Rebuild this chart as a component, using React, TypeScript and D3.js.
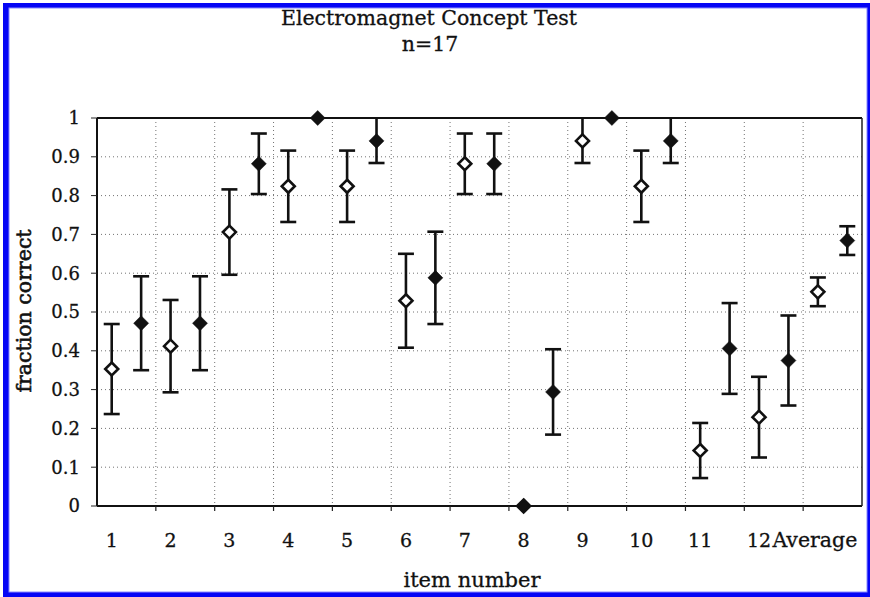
import React, { useEffect, useRef } from 'react';
import * as d3 from 'd3';

// item labels along the bottom
const categories = ['1', '2', '3', '4', '5', '6', '7', '8', '9', '10', '11', '12', 'Average'];

// open diamonds (left point in each item)
const openValues = [0.353, 0.412, 0.706, 0.824, 0.824, 0.529, 0.882, 0.0, 0.941, 0.824, 0.143, 0.229, 0.552];
const openErrors = [0.116, 0.119, 0.11, 0.092, 0.092, 0.121, 0.078, 0.0, 0.057, 0.092, 0.071, 0.104, 0.037];

// filled diamonds (right point in each item)
const filledValues = [0.471, 0.471, 0.882, 1.0, 0.941, 0.588, 0.882, 0.294, 1.0, 0.941, 0.406, 0.375, 0.684];
const filledErrors = [0.121, 0.121, 0.078, 0.0, 0.057, 0.119, 0.078, 0.11, 0.0, 0.057, 0.117, 0.116, 0.037];

const yTicks = [0, 0.1, 0.2, 0.3, 0.4, 0.5, 0.6, 0.7, 0.8, 0.9, 1];

const FONT = '"DejaVu Serif", serif';

const App: React.FC = () => {
  const svgRef = useRef<SVGSVGElement>(null);

  useEffect(() => {
    if (!svgRef.current) return;
    const width = 870;
    const height = 597;
    const margin = { top: 118, right: 7, bottom: 91, left: 97 };

    const svg = d3.select(svgRef.current)
      .attr('width', width)
      .attr('height', height);
    svg.selectAll('*').remove();

    // blue frame of the scan
    svg.append('rect').attr('x', 3).attr('y', 3).attr('width', width - 3).attr('height', height - 3).attr('fill', '#0505f5');
    svg.append('rect').attr('x', 9).attr('y', 8).attr('width', 858).attr('height', 584).attr('fill', '#ffffff')
      .attr('stroke', '#8a8aff').attr('stroke-width', 1);

    const x = d3.scaleBand<string>()
      .domain(categories)
      .range([margin.left, width - margin.right - 1])
      .paddingInner(0)
      .paddingOuter(0);
    const bw = x.bandwidth();

    const y = d3.scaleLinear()
      .domain([0, 1])
      .range([height - margin.bottom, margin.top]);

    const x0 = margin.left;
    const x1 = width - margin.right - 1;

    // dotted grid
    const grid = svg.append('g')
      .attr('stroke', '#444')
      .attr('stroke-width', 1)
      .attr('stroke-dasharray', '1,3')
      .attr('opacity', 0.75);

    grid.selectAll('.hg')
      .data(yTicks.filter(t => t > 0 && t < 1))
      .enter()
      .append('line')
      .attr('x1', x0)
      .attr('x2', x1)
      .attr('y1', d => y(d))
      .attr('y2', d => y(d));

    grid.selectAll('.vg')
      .data(categories.slice(1))
      .enter()
      .append('line')
      .attr('x1', d => x(d)!)
      .attr('x2', d => x(d)!)
      .attr('y1', y(1))
      .attr('y2', y(0));

    // plot frame
    svg.append('line').attr('x1', x0).attr('x2', x0).attr('y1', y(1)).attr('y2', y(0))
      .attr('stroke', '#111').attr('stroke-width', 2);
    svg.append('line').attr('x1', x0).attr('x2', x1).attr('y1', y(0)).attr('y2', y(0))
      .attr('stroke', '#111').attr('stroke-width', 2.2);
    svg.append('line').attr('x1', x0).attr('x2', x1).attr('y1', y(1)).attr('y2', y(1))
      .attr('stroke', '#111').attr('stroke-width', 2);
    svg.append('line').attr('x1', x1).attr('x2', x1).attr('y1', y(1)).attr('y2', y(0))
      .attr('stroke', '#222').attr('stroke-width', 1.5);

    // y ticks + labels
    const yAxis = svg.append('g');
    yAxis.selectAll('line')
      .data(yTicks)
      .enter()
      .append('line')
      .attr('x1', x0 - 6)
      .attr('x2', x0)
      .attr('y1', d => y(d))
      .attr('y2', d => y(d))
      .attr('stroke', '#222')
      .attr('stroke-width', 1);
    yAxis.selectAll('text')
      .data(yTicks)
      .enter()
      .append('text')
      .attr('x', 80)
      .attr('y', d => y(d))
      .attr('dy', '0.36em')
      .attr('text-anchor', 'end')
      .attr('font-family', FONT)
      .attr('font-size', 18)
      .attr('fill', '#111')
      .attr('stroke', '#111').attr('stroke-width', 0.3)
      .text(d => d3.format('')(d));

    // x ticks at item boundaries + labels
    svg.selectAll('.xt')
      .data(categories.slice(1))
      .enter()
      .append('line')
      .attr('x1', d => x(d)!)
      .attr('x2', d => x(d)!)
      .attr('y1', y(0))
      .attr('y2', y(0) + 5)
      .attr('stroke', '#222')
      .attr('stroke-width', 1.2);

    svg.selectAll('.xl')
      .data(categories)
      .enter()
      .append('text')
      .attr('x', d => x(d)! + bw * 0.25 + (d === 'Average' ? -3 : 0))
      .attr('y', 547)
      .attr('text-anchor', 'middle')
      .attr('font-family', FONT)
      .attr('font-size', d => (d === 'Average' ? 20.5 : 19))
      .attr('fill', '#111')
      .attr('stroke', '#111').attr('stroke-width', 0.3)
      .text(d => d);

    // titles
    svg.append('text').attr('x', 429).attr('y', 25).attr('text-anchor', 'middle')
      .attr('font-family', FONT).attr('font-size', 20.5).attr('fill', '#111')
      .attr('stroke', '#111').attr('stroke-width', 0.3)
      .text('Electromagnet Concept Test');
    svg.append('text').attr('x', 430).attr('y', 51).attr('text-anchor', 'middle')
      .attr('font-family', FONT).attr('font-size', 20.5).attr('fill', '#111')
      .attr('stroke', '#111').attr('stroke-width', 0.3)
      .text('n=17');
    svg.append('text').attr('x', 472).attr('y', 587).attr('text-anchor', 'middle')
      .attr('font-family', FONT).attr('font-size', 21).attr('fill', '#111')
      .attr('stroke', '#111').attr('stroke-width', 0.3)
      .text('item number');
    svg.append('text')
      .attr('transform', `translate(31, 311) rotate(-90)`)
      .attr('text-anchor', 'middle')
      .attr('font-family', FONT).attr('font-size', 20.5).attr('fill', '#111')
      .attr('stroke', '#111').attr('stroke-width', 0.6)
      .text('fraction correct');

    // error bars + diamonds
    const series = [
      { values: openValues, errors: openErrors, offset: 0.25, open: true },
      { values: filledValues, errors: filledErrors, offset: 0.75, open: false },
    ];

    series.forEach(s => {
      const pts = categories.map((c, i) => ({
        cx: x(c)! + bw * s.offset,
        v: s.values[i],
        e: s.errors[i],
      }));

      const bars = svg.append('g')
        .attr('stroke', '#111')
        .attr('stroke-width', 2.6);

      const withErr = pts.filter(p => p.e > 0);
      bars.selectAll('.stem')
        .data(withErr)
        .enter()
        .append('line')
        .attr('x1', p => p.cx)
        .attr('x2', p => p.cx)
        .attr('y1', p => y(Math.min(1, p.v + p.e)))
        .attr('y2', p => y(p.v - p.e));
      bars.selectAll('.capTop')
        .data(withErr.filter(p => p.v + p.e < 0.995))
        .enter()
        .append('line')
        .attr('x1', p => p.cx - 8)
        .attr('x2', p => p.cx + 8)
        .attr('y1', p => y(p.v + p.e))
        .attr('y2', p => y(p.v + p.e));
      bars.selectAll('.capBot')
        .data(withErr)
        .enter()
        .append('line')
        .attr('x1', p => p.cx - 8)
        .attr('x2', p => p.cx + 8)
        .attr('y1', p => y(p.v - p.e))
        .attr('y2', p => y(p.v - p.e));

      const r = s.open ? 6.5 : 7.5;
      svg.append('g')
        .selectAll('path')
        .data(pts)
        .enter()
        .append('path')
        .attr('d', p => `M${p.cx},${y(p.v) - r}L${p.cx + r},${y(p.v)}L${p.cx},${y(p.v) + r}L${p.cx - r},${y(p.v)}Z`)
        // the zero point sits on the axis and prints solid in the source
        .attr('fill', p => (s.open && p.v > 0 ? '#fff' : '#111'))
        .attr('stroke', '#111')
        .attr('stroke-width', s.open ? 2.6 : 0.5);
    });
  }, []);

  return (
    <div style={{ width: 870, height: 597 }}>
      <style>{`body { margin: 0; }`}</style>
      <svg ref={svgRef} style={{ display: 'block' }} />
    </div>
  );
};

export default App;
